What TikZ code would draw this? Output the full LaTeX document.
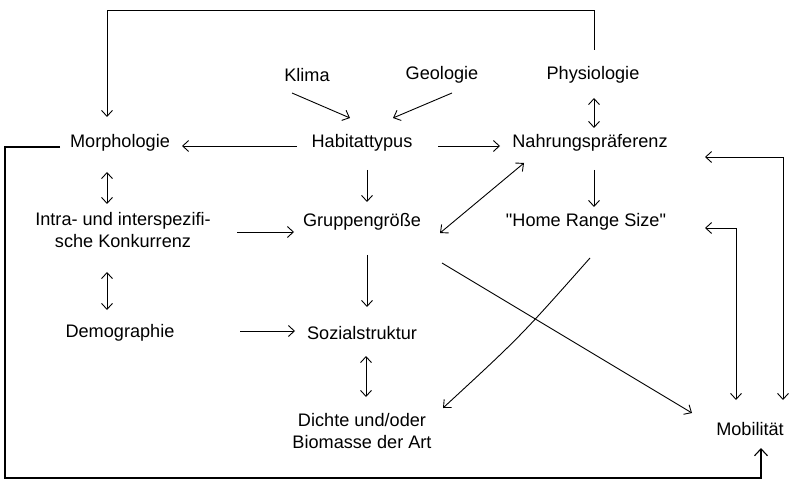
\documentclass[tikz,border=0pt]{standalone}
\usepackage{fontspec}
\setmainfont{Liberation Sans}[Ligatures=TeXOff]
\usetikzlibrary{arrows.meta}
\begin{document}
\begin{tikzpicture}[x=1bp,y=-1bp,
  lbl/.style={inner sep=0pt, font=\fontsize{18.2}{21.5}\selectfont, align=center},
  conn/.style={line width=0.9bp, draw=black},
  tipb/.tip={Straight Barb[length=6bp,width=11bp]},
  arr/.style={conn, -tipb},
  darr/.style={conn, tipb-tipb},
  loopline/.style={conn, line width=1.1bp}
]
\useasboundingbox (0,0) rectangle (789,481);
\fill[white] (0,0) rectangle (789,481);

% nodes
\node[lbl] (klima)  at (307,75)  {Klima};
\node[lbl] (geo)    at (442,75)  {Geologie};
\node[lbl] (phys)   at (593,75)  {Physiologie};
\node[lbl] (morph)  at (120,143) {Morphologie};
\node[lbl] (habit)  at (362,143) {Habitattypus};
\node[lbl] (nahr)   at (590,143) {Nahrungspräferenz};
\node[lbl] (intra)  at (123,230) {Intra- und interspezifi-\\sche Konkurrenz};
\node[lbl] (grupp)  at (362,222) {Gruppengröße};
\node[lbl] (home)   at (586,222) {"Home Range Size"};
\node[lbl] (demo)   at (120,333) {Demographie};
\node[lbl] (sozial) at (362,333) {Sozialstruktur};
\node[lbl] (dichte) at (362,431) {Dichte und/oder\\Biomasse der Art};
\node[lbl] (mob)    at (750,429) {Mobilität};

% connectors
\draw[arr]  ([shift={(-15,18)}]klima.center) -- ([shift={(-12,-25)}]habit.center);
\draw[arr]  ([shift={(10,18)}]geo.center) -- ([shift={(31,-25)}]habit.center);
\draw[darr] ([shift={(1,23)}]phys.center) -- ([shift={(4,-15)}]nahr.center);
\draw[arr]  ([shift={(-65,3)}]habit.center) -- ([shift={(62,3)}]morph.center);
\draw[arr]  ([shift={(76,3)}]habit.center) -- ([shift={(-90,3)}]nahr.center);
\draw[arr]  ([shift={(5,27)}]habit.center) -- ([shift={(5,-20)}]grupp.center);
\draw[darr] ([shift={(-13,29)}]morph.center) -- ([shift={(-16,-26)}]intra.center);
\draw[arr]  ([shift={(114,2)}]intra.center) -- ([shift={(-68,10)}]grupp.center);
\draw[arr]  ([shift={(4,27)}]nahr.center) -- ([shift={(8,-15)}]home.center);
\draw[darr] ([shift={(78,11)}]grupp.center) -- ([shift={(-66,20)}]nahr.center);
\draw[arr]  ([shift={(5,33)}]grupp.center) -- ([shift={(5,-26)}]sozial.center);
\draw[darr] ([shift={(-16,42)}]intra.center) -- ([shift={(-13,-23)}]demo.center);
\draw[arr]  ([shift={(120,-2)}]demo.center) -- ([shift={(-67,-2)}]sozial.center);
\draw[darr] ([shift={(4,23)}]sozial.center) -- ([shift={(4,-34)}]dichte.center);
\draw[arr]  ([shift={(4,36)}]home.center) .. controls ([shift={(-66,115)}]home.center) .. ([shift={(81,-23)}]dichte.center);
\draw[arr]  ([shift={(80,41)}]grupp.center) -- ([shift={(-58,-16)}]mob.center);

% loops on the right
\draw[darr] ([shift={(33,-29)}]mob.center) |- ([shift={(115,14)}]nahr.center);
\draw[darr] ([shift={(-14,-29)}]mob.center) |- ([shift={(119,6)}]home.center);

% top loop: Physiologie -> Morphologie
\draw[arr] ([shift={(1,-25)}]phys.center) -- ++(0,-40) -| ([shift={(-13,-26)}]morph.center);

% outer loop: Morphologie -> Mobilitaet
\draw[loopline, -{Straight Barb[length=7bp,width=13bp]}]
  ([shift={(-60,4)}]morph.center) -- ++(-55,0) -- ++(0,331) -| ([shift={(11,19)}]mob.center);
\end{tikzpicture}
\end{document}
